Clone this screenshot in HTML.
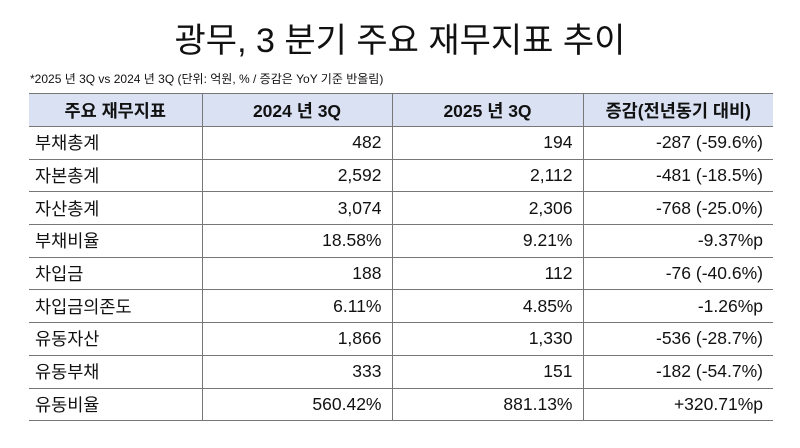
<!DOCTYPE html>
<html><head><meta charset="utf-8"><style>
body{margin:0;width:800px;height:448px;background:#fff;font-family:"Liberation Sans","Noto Sans CJK KR",sans-serif;color:#111;position:relative;overflow:hidden}
.t{position:absolute;left:0;width:800px;top:19px;text-align:center;font-size:34px;line-height:44px}
.s{position:absolute;left:30px;top:71px;font-size:12px;line-height:16px}
table{position:absolute;left:29px;top:93px;border-collapse:collapse;font-size:17.5px}
td,th{height:32.7px;padding:0 10px;border-bottom:1.5px solid #777;box-sizing:border-box}
th{background:#d9e1f2;font-weight:bold;text-align:center;height:33px;border-top:1.5px solid #777}
td{text-align:right}
td:first-child{text-align:left;padding-left:6px}
td:nth-child(1),th:nth-child(1){width:173px;border-right:1.5px solid #777}
td:nth-child(2),th:nth-child(2){width:190px;border-right:1.5px solid #777}
td:nth-child(3),th:nth-child(3){width:191px;border-right:1.5px solid #777}
td:nth-child(4),th:nth-child(4){width:190px}
</style></head><body>
<div class="t">광무, 3 분기 주요 재무지표 추이</div>
<div class="s">*2025 년 3Q vs 2024 년 3Q (단위: 억원, % / 증감은 YoY 기준 반올림)</div>
<table>
<tr><th>주요 재무지표</th><th>2024 년 3Q</th><th>2025 년 3Q</th><th>증감(전년동기 대비)</th></tr>
<tr><td>부채총계</td><td>482</td><td>194</td><td>-287 (-59.6%)</td></tr>
<tr><td>자본총계</td><td>2,592</td><td>2,112</td><td>-481 (-18.5%)</td></tr>
<tr><td>자산총계</td><td>3,074</td><td>2,306</td><td>-768 (-25.0%)</td></tr>
<tr><td>부채비율</td><td>18.58%</td><td>9.21%</td><td>-9.37%p</td></tr>
<tr><td>차입금</td><td>188</td><td>112</td><td>-76 (-40.6%)</td></tr>
<tr><td>차입금의존도</td><td>6.11%</td><td>4.85%</td><td>-1.26%p</td></tr>
<tr><td>유동자산</td><td>1,866</td><td>1,330</td><td>-536 (-28.7%)</td></tr>
<tr><td>유동부채</td><td>333</td><td>151</td><td>-182 (-54.7%)</td></tr>
<tr><td>유동비율</td><td>560.42%</td><td>881.13%</td><td>+320.71%p</td></tr>
</table>
</body></html>
